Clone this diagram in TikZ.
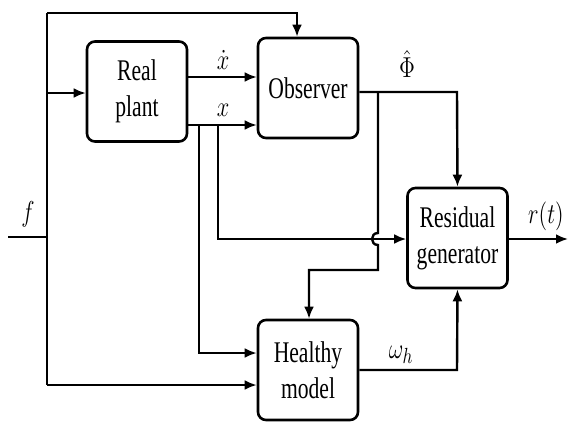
\documentclass[tikz,border=0pt]{standalone}
\usepackage[no-math]{fontspec}
\setmainfont[FakeStretch=0.72]{Liberation Serif}
\usepackage{graphicx}
\usetikzlibrary{arrows.meta}
\newcommand{\nsq}[1]{\scalebox{0.78}[1]{#1}}
\tikzset{
  blockbox/.style={draw, line width=1.3pt, rounded corners=4pt, minimum width=50pt, minimum height=50pt, inner sep=0pt, align=center, font=\fontsize{15}{18}\selectfont},
  wire/.style={line width=1.2pt},
  arr/.style={wire, -{Latex[length=6pt,width=5pt]}},
  lbl/.style={inner sep=0pt, font=\fontsize{15}{18}\selectfont}
}
\begin{document}
\begin{tikzpicture}[x=0.5pt,y=-0.5pt]
\useasboundingbox (0,0) rectangle (568,423);
% blocks
\node[blockbox] (plant) at (137,91.5) {Real\\plant};
\node[blockbox] (obs) at (308,88) {Observer};
\node[blockbox] (res) at (457.5,238) {Residual\\generator};
\node[blockbox] (hm) at (308,370) {Healthy\\model};
% junction coordinates
\coordinate (fin) at (8,237);
\coordinate (jf) at (47,237);
\coordinate (jtop) at (47,13);
\coordinate (jbot) at (47,385);
\coordinate (jp) at (47,93);
\coordinate (ot) at (297,13);
\coordinate (xd) at (222,77);
\coordinate (xx) at (222,125);
\coordinate (b1) at (199,125);
\coordinate (b1d) at (199,353);
\coordinate (b2) at (218,125);
\coordinate (b2d) at (218,239);
\coordinate (oo) at (378,92);
\coordinate (oc) at (457,92);
\coordinate (hopa) at (378,233);
\coordinate (hopb) at (378,245);
\coordinate (od) at (378,270);
\coordinate (ol) at (309,270);
\coordinate (ho) at (457,370);
\coordinate (rout) at (568,239);
% connectors
\draw[wire] (fin) -- (jf);
\draw[wire] (jtop) -- (jbot);
\draw[arr] (jtop) -- (ot) -- (ot |- obs.north);
\draw[arr] (jp) -- (jp -| plant.west);
\draw[arr] (jbot) -- (jbot -| hm.west);
\draw[arr] (plant.east |- xd) -- (obs.west |- xd);
\draw[arr] (plant.east |- xx) -- (obs.west |- xx);
\draw[arr] (b1) -- (b1d) -- (b1d -| hm.west);
\draw[arr] (b2) -- (b2d) -- (b2d -| res.west);
\draw[arr] (obs.east |- oo) -- (oc) -- (res.north);
\draw[arr] (oo) -- (hopa) .. controls (370,233) and (370,245) .. (hopb) -- (od) -- (ol) -- (ol |- hm.north);
\draw[arr] (hm.east |- ho) -- (ho) -- (res.south);
\draw[arr] (res.east |- rout) -- (rout);
% labels
\node[lbl] (lf) at (28,214) {\nsq{$f$}};
\node[lbl] (lxd) at (223,60) {\nsq{$\dot{x}$}};
\node[lbl] (lx) at (223,110) {\nsq{$x$}};
\node[lbl] (lphi) at (407,64) {\nsq{$\hat{\Phi}$}};
\node[lbl] (lw) at (401,355) {\nsq{$\omega_h$}};
\node[lbl] (lr) at (546,216) {\nsq{$r(t)$}};
\end{tikzpicture}
\end{document}
